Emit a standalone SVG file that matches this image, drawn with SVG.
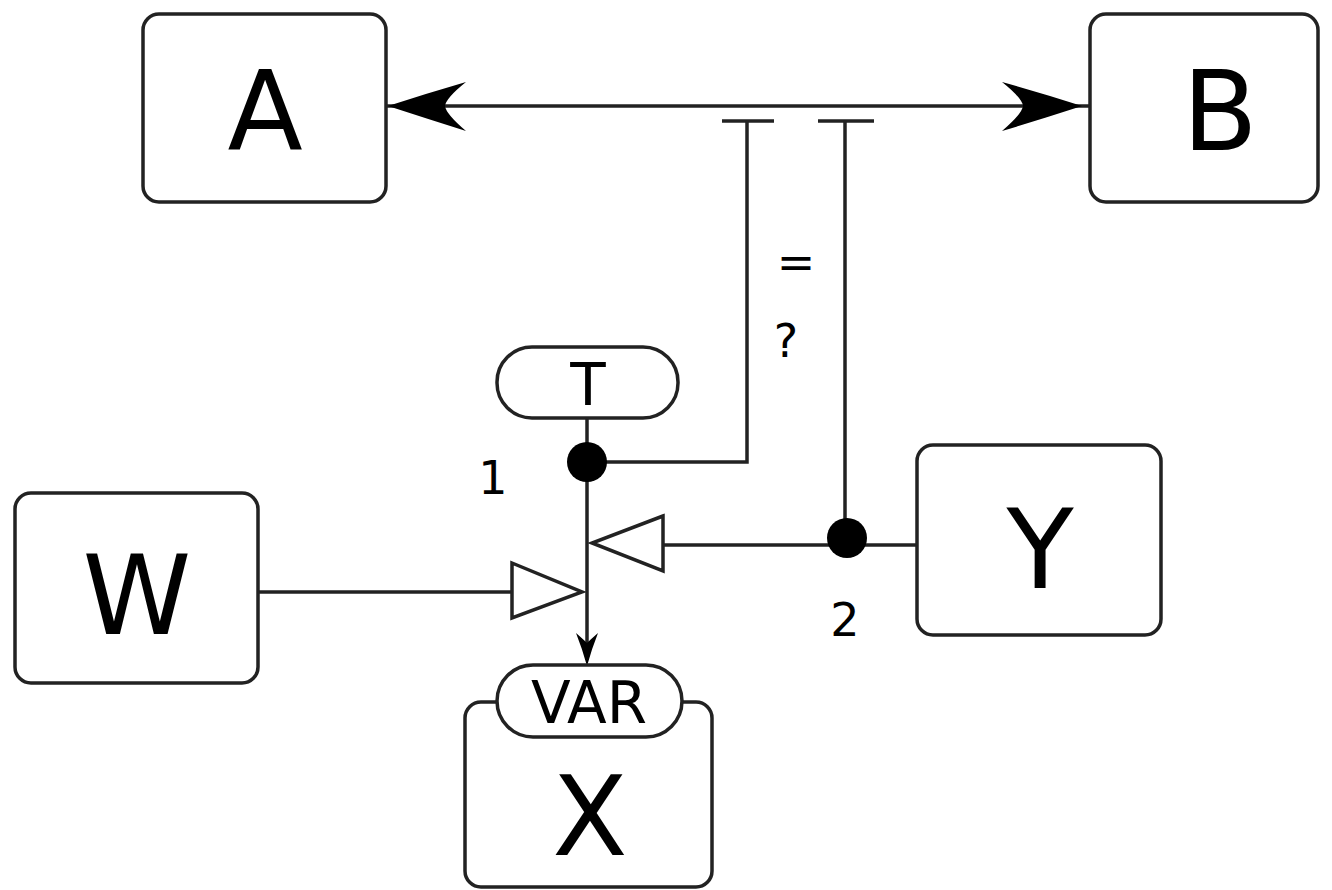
<svg xmlns="http://www.w3.org/2000/svg" width="1332" height="890" viewBox="0 0 1332 890">
<defs>
<style>
.box{fill:#fff;stroke:#222;stroke-width:3.5}
.ln{fill:none;stroke:#222;stroke-width:3.5}
.tri{fill:#fff;stroke:#222;stroke-width:3.5}
.big{font-family:"DejaVu Sans",sans-serif;font-size:110px;fill:#000;text-anchor:middle}
.mid{font-family:"DejaVu Sans",sans-serif;font-size:58px;fill:#000;text-anchor:middle}
.sm{font-family:"DejaVu Sans",sans-serif;font-size:46px;fill:#000;text-anchor:middle}
</style>
</defs>
<g id="connectors">
<line class="ln" x1="386" y1="106" x2="1090" y2="106"/>
<path d="M388,106 Q428,93 466,82 Q446,98 445,106 Q446,114 466,131 Q428,119 388,106 Z" fill="#000"/>
<path d="M1082,106 Q1042,93 1002,82 Q1022,98 1023,106 Q1022,114 1002,131 Q1042,119 1082,106 Z" fill="#000"/>
<line class="ln" x1="722" y1="121" x2="774" y2="121"/>
<line class="ln" x1="818" y1="121" x2="874" y2="121"/>
<polyline class="ln" points="747,121 747,462 587,462"/>
<line class="ln" x1="845" y1="121" x2="845" y2="540"/>
<line class="ln" x1="587" y1="418" x2="587" y2="660"/>
<path d="M587,666 Q582,648 576,633 Q584,640 587,643 Q590,640 598,633 Q592,648 587,666 Z" fill="#000"/>
<line class="ln" x1="258" y1="592" x2="512" y2="592"/>
<polygon class="tri" points="512,563 582,592 512,618"/>
<line class="ln" x1="917" y1="545" x2="663" y2="545"/>
<polygon class="tri" points="663,516 592,543 663,571"/>
<circle cx="587" cy="462" r="20" fill="#000"/>
<circle cx="847" cy="538" r="20" fill="#000"/>
<text class="sm" x="493" y="494">1</text>
<text class="sm" x="845" y="636">2</text>
<text class="sm" x="796" y="278">=</text>
<text class="sm" x="786" y="357">?</text>
</g>
<g id="A"><rect class="box" x="143" y="14" width="243" height="188" rx="16"/><text class="big" x="265" y="150">A</text></g>
<g id="B"><rect class="box" x="1090" y="14" width="228" height="188" rx="16"/><text class="big" x="1220" y="150">B</text></g>
<g id="W"><rect class="box" x="15" y="493" width="243" height="190" rx="16"/><text class="big" x="137" y="634">W</text></g>
<g id="Y"><rect class="box" x="917" y="445" width="244" height="190" rx="16"/><text class="big" x="1040" y="588">Y</text></g>
<g id="X"><rect class="box" x="465" y="702" width="247" height="185" rx="16"/><text class="big" x="590" y="855">X</text></g>
<g id="VAR"><rect class="box" x="497" y="665" width="185" height="72" rx="36"/><text class="mid" x="589" y="723">VAR</text></g>
<g id="T"><rect class="box" x="497" y="347" width="181" height="71" rx="35"/><text class="mid" x="588" y="405">T</text></g>
</svg>
